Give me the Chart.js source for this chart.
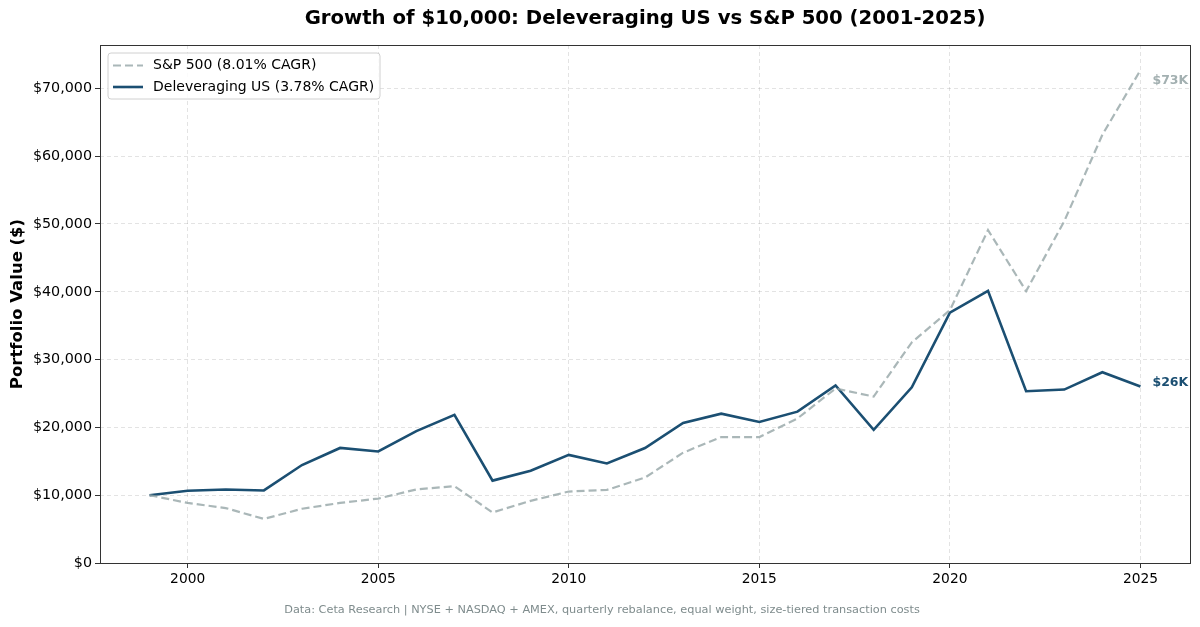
<!DOCTYPE html>
<html>
<head>
<meta charset="utf-8">
<script src="https://cdn.jsdelivr.net/npm/chart.js@4.4.1/dist/chart.umd.min.js"></script>
<style>
  html, body { margin: 0; padding: 0; background: #fff; }
  #wrap { width: 1200px; height: 627px; }
</style>
</head>
<body>
<div id="wrap"><canvas id="growth"></canvas></div>
<script>
// values
const years = [1999, 2000, 2001, 2002, 2003, 2004, 2005, 2006, 2007, 2008, 2009, 2010, 2011, 2012,
               2013, 2014, 2015, 2016, 2017, 2018, 2019, 2020, 2021, 2022, 2023, 2024, 2025];
const sp500 = [10000, 8860, 8100, 6500, 8000, 8860, 9500, 10850, 11340, 7450, 9170, 10540, 10780, 12600,
               16270, 18580, 18580, 21320, 25740, 24550, 32540, 37290, 49100, 40100, 50400, 63150, 72700];
const delev = [10000, 10650, 10850, 10700, 14450, 16970, 16450, 19450, 21850, 12150, 13600, 15950, 14680, 16960,
               20650, 22020, 20800, 22320, 26200, 19650, 25920, 36930, 40140, 25330, 25580, 28140, 26020];
const xTicks = [2000, 2005, 2010, 2015, 2020, 2025];
const yTicks = [0, 10000, 20000, 30000, 40000, 50000, 60000, 70000];
const seriesNames = ['S&P 500 (8.01% CAGR)', 'Deleveraging US (3.78% CAGR)'];
const endLabels = ['$73K', '$26K'];

const titleText = 'Growth of $10,000: Deleveraging US vs S&P 500 (2001-2025)';
const footerText = 'Data: Ceta Research | NYSE + NASDAQ + AMEX, quarterly rebalance, equal weight, size-tiered transaction costs';
const FONT = '"DejaVu Sans", Arial, sans-serif';

const spColor = 'rgba(149,165,166,0.8)';
const delevColor = '#1b4f72';

function pts(vals) {
    return years.map((y, i) => ({ x: y, y: vals[i] }));
}

const decorPlugin = {
    id: 'decor',
    afterDraw(chart) {
        const ctx = chart.ctx;
        const a = chart.chartArea;
        ctx.save();

        // frame
        ctx.strokeStyle = '#333';
        ctx.lineWidth = 1;
        ctx.strokeRect(a.left + 0.5, a.top + 0.5, a.right - a.left, a.bottom - a.top);

        // title
        ctx.fillStyle = '#000';
        ctx.textAlign = 'center';
        ctx.textBaseline = 'middle';
        ctx.font = 'bold 19.7px ' + FONT;
        ctx.fillText(titleText, (a.left + a.right) / 2, 19);

        // footer
        ctx.fillStyle = '#7f8c8d';
        ctx.font = '11.3px ' + FONT;
        ctx.fillText(footerText, 602, 610);

        // y axis title
        ctx.save();
        ctx.translate(18, (a.top + a.bottom) / 2);
        ctx.rotate(-Math.PI / 2);
        ctx.fillStyle = '#000';
        ctx.font = 'bold 16.5px ' + FONT;
        ctx.fillText('Portfolio Value ($)', 0, 0);
        ctx.restore();

        // end labels
        ctx.textAlign = 'left';
        ctx.font = 'bold 12.5px ' + FONT;
        chart.data.datasets.forEach((ds, i) => {
            const meta = chart.getDatasetMeta(i);
            const last = meta.data[meta.data.length - 1];
            ctx.fillStyle = ds.labelColor;
            ctx.fillText(endLabels[i], last.x + 12, last.y + ds.labelDy);
        });

        // legend
        const lx = a.left + 8, ly = a.top + 8, lw = 272, lh = 46;
        ctx.beginPath();
        ctx.roundRect(lx, ly, lw, lh, 3);
        ctx.fillStyle = 'rgba(255,255,255,0.85)';
        ctx.fill();
        ctx.strokeStyle = '#d0d0d0';
        ctx.lineWidth = 1;
        ctx.stroke();
        ctx.font = '14px ' + FONT;
        ctx.textBaseline = 'middle';
        chart.data.datasets.forEach((ds, i) => {
            const yy = ly + 12.5 + i * 21.5;
            ctx.beginPath();
            ctx.setLineDash(ds.borderDash || []);
            ctx.strokeStyle = ds.borderColor;
            ctx.lineWidth = ds.borderWidth;
            ctx.moveTo(lx + 5, yy);
            ctx.lineTo(lx + 35, yy);
            ctx.stroke();
            ctx.setLineDash([]);
            ctx.fillStyle = '#000';
            ctx.fillText(seriesNames[i], lx + 45, yy);
        });

        ctx.restore();
    }
};

const gridOpts = {
    color: 'rgba(0,0,0,0.11)',
    tickColor: '#333',
    tickLength: 5,
    tickBorderDash: []
};

new Chart(document.getElementById('growth'), {
    type: 'line',
    data: {
        datasets: [
            {
                label: seriesNames[0],
                data: pts(sp500),
                borderColor: spColor,
                borderWidth: 2.2,
                borderDash: [8, 4],
                pointRadius: 0,
                tension: 0,
                labelColor: '#a3b0b1',
                labelDy: 11
            },
            {
                label: seriesNames[1],
                data: pts(delev),
                borderColor: delevColor,
                borderWidth: 2.6,
                pointRadius: 0,
                tension: 0,
                labelColor: delevColor,
                labelDy: -4
            }
        ]
    },
    options: {
        responsive: true,
        maintainAspectRatio: false,
        animation: false,
        layout: { padding: { top: 45, right: 10, bottom: 34, left: 0 } },
        plugins: {
            legend: { display: false },
            title: { display: false },
            tooltip: { enabled: false }
        },
        scales: {
            x: {
                type: 'linear',
                min: 1997.7,
                max: 2026.3,
                afterBuildTicks: s => { s.ticks = xTicks.map(v => ({ value: v })); },
                afterFit: s => { s.height = 30; },
                ticks: {
                    color: '#000',
                    font: { family: FONT, size: 13.8 },
                    padding: 3,
                    maxRotation: 0,
                    callback: v => String(v)
                },
                grid: gridOpts,
                border: { display: false, dash: [4, 3] }
            },
            y: {
                min: 0,
                max: 76400,
                afterBuildTicks: s => { s.ticks = yTicks.map(v => ({ value: v })); },
                afterFit: s => { s.width = 100; },
                ticks: {
                    color: '#000',
                    font: { family: FONT, size: 14.3 },
                    padding: 3,
                    callback: v => '$' + v.toLocaleString('en-US')
                },
                grid: gridOpts,
                border: { display: false, dash: [4, 3] }
            }
        }
    },
    plugins: [decorPlugin]
});
</script>
</body>
</html>
